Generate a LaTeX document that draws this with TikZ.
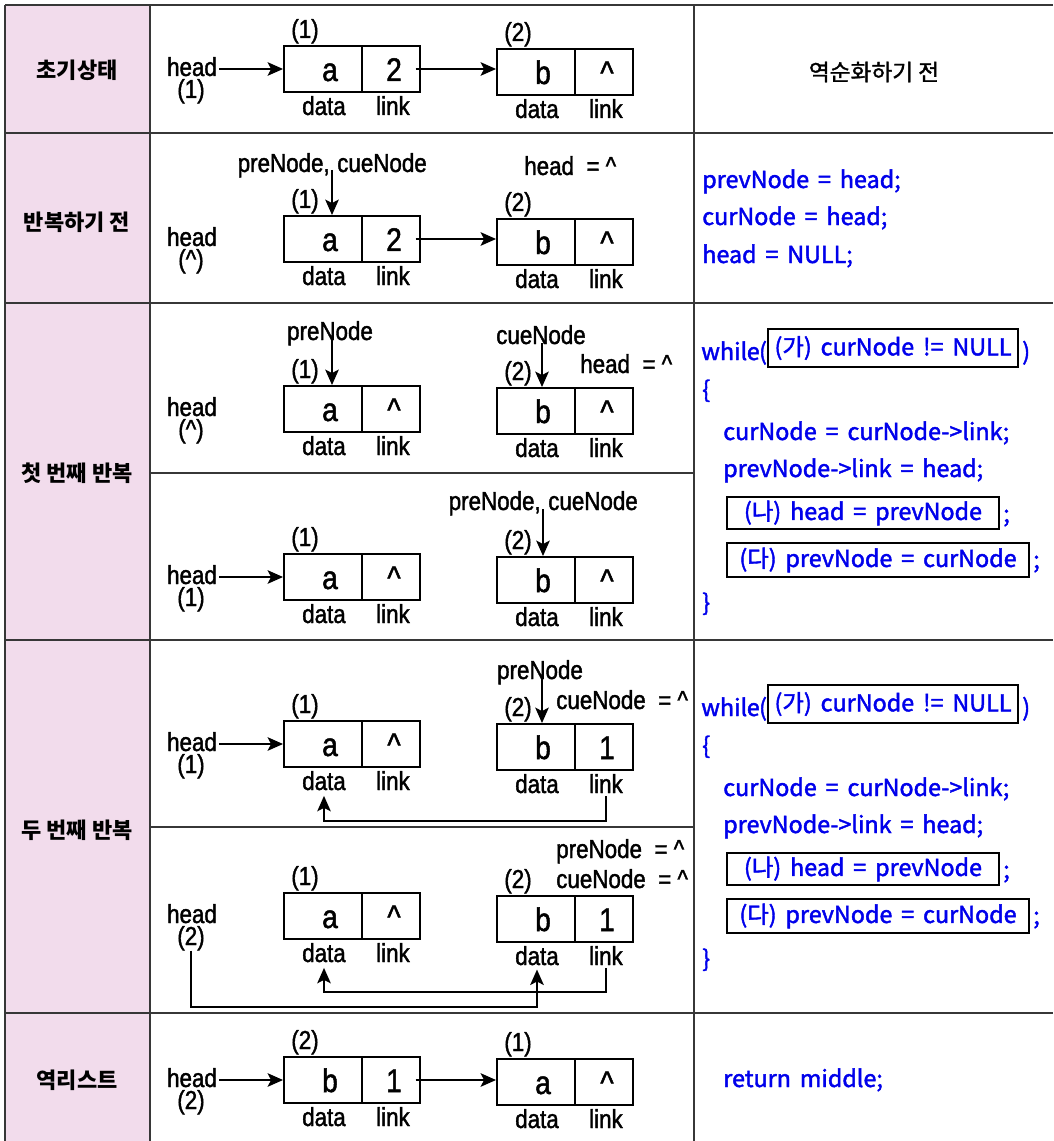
\documentclass[tikz,border=0pt]{standalone}
\usepackage{fontspec}
\usetikzlibrary{arrows.meta}
\newfontfamily\dfont[FakeStretch=0.86,FakeBold=1.5]{Liberation Sans}
\newfontfamily\krfont{Noto Sans CJK KR}
\newfontfamily\krcode[WordSpace=1.7,FakeBold=1.8]{Noto Sans CJK KR}
\newfontfamily\krmid[FakeBold=1.5]{Noto Sans CJK KR}
\definecolor{pinkbg}{RGB}{242,220,236}
\definecolor{codeblue}{RGB}{0,0,235}
\definecolor{rulegray}{RGB}{55,55,55}
\tikzset{
  lbl/.style={font=\dfont\fontsize{19.5}{21}\selectfont, inner sep=0pt, anchor=base},
  val/.style={font=\dfont\fontsize{24.5}{26}\selectfont, inner sep=0pt, anchor=base},
  cellbox/.style={draw, line width=1.4pt, minimum height=34.5pt, inner sep=0pt},
  dcell/.style={cellbox, minimum width=58.5pt},
  lcell/.style={cellbox, minimum width=43.5pt},
  arr/.style={line width=2pt, -{Stealth[length=11.5pt,width=10pt,inset=2.5pt]}},
  code/.style={font=\krcode\fontsize{17.5}{20}\selectfont, text=codeblue, inner sep=0pt, anchor=base west},
  kbox/.style={code, draw=black, line width=1pt, anchor=center},
  klab/.style={font=\krfont\bfseries\fontsize{16.5}{18}\selectfont, inner sep=0pt},
  grid/.style={draw=rulegray, line width=1.1pt},
}
% id, xleft, top, value1, value2, index
\newcommand\llnode[6]{%
  \node[dcell] (#1d) at ({#2+39},{#3+23}) {};
  \node[lcell] (#1l) at ({#2+107},{#3+23}) {};
  \node[val] (#1dv) at ({#2+46},{#3+35}) {#4};
  \node[val] (#1lv) at ({#2+110},{#3+35}) {#5};
  \node[lbl] (#1dt) at ({#2+40},{#3+69}) {data};
  \node[lbl] (#1lt) at ({#2+109},{#3+69}) {link};
  \node[lbl] (#1ix) at ({#2+21},{#3-8}) {#6};
}
% id, top, number
\newcommand\headlbl[3]{%
  \node[lbl] (#1h) at (192,{#2+30}) {head};
  \node[lbl] (#1hn) at (191,{#2+52}) {#3};
}
\begin{document}
\begin{tikzpicture}[x=0.75pt,y=-0.75pt]
\useasboundingbox (0,0) rectangle (1053,1141);
\fill[white] (0,0) rectangle (1053,1141);
\fill[pinkbg] (5,5) rectangle (150,1141);
% grid
\draw[grid, line width=1.5pt] (5,5) -- (1053,5);
\foreach \yy in {133,303,640,1013} \draw[grid] (5,\yy) -- (1053,\yy);
\foreach \yy in {473,827} \draw[grid] (150,\yy) -- (694,\yy);
\foreach \xx in {5,150,694} \draw[grid] (\xx,5) -- (\xx,1141);

% left labels
\node[klab] (t1) at (77,70) {초기상태};
\node[klab] (t2) at (77,222) {반복하기 전};
\node[klab] (t3) at (77,473) {첫 번째 반복};
\node[klab] (t4) at (77,830) {두 번째 반복};
\node[klab] (t5) at (77,1080) {역리스트};

% ---- row 1
\llnode{r1a}{284}{46}{a}{2}{(1)}
\llnode{r1b}{497}{49}{b}{\textasciicircum}{(2)}
\headlbl{r1}{46}{(1)}
\draw[arr, shorten <=1.5pt] (r1h.east |- r1ad.west) -- (r1ad.west);
\draw[arr] ([xshift=-4pt]r1al.east) -- (r1bd.west |- r1al.east);

% ---- row 2
\llnode{r2a}{284}{216}{a}{2}{(1)}
\llnode{r2b}{497}{219}{b}{\textasciicircum}{(2)}
\headlbl{r2}{216}{(\textasciicircum)}
\node[lbl, anchor=base east] (r2pre) at (330,172) {preNode,};
\node[lbl, anchor=base west] (r2cue) at (337,172) {cueNode};
\node[lbl, anchor=base west] (r2hd) at (524,175) {head\ \ =\ \textasciicircum};
\coordinate (r2p) at (332,170);
\draw[arr] (r2p) -- (r2p |- r2ad.north);
\draw[arr] ([xshift=-4pt]r2al.east) -- (r2bd.west |- r2al.east);

% ---- row 3a
\llnode{r3a}{284}{386}{a}{\textasciicircum}{(1)}
\llnode{r3b}{497}{388}{b}{\textasciicircum}{(2)}
\headlbl{r3}{386}{(\textasciicircum)}
\node[lbl] (r3pre) at (330,340) {preNode};
\node[lbl] (r3cue) at (541,344) {cueNode};
\node[lbl, anchor=base west] (r3hd) at (580,373) {head\ \ =\ \textasciicircum};
\coordinate (r3p) at (332,338);
\coordinate (r3c) at (542,343);
\draw[arr] (r3p) -- (r3p |- r3ad.north);
\draw[arr] (r3c) -- (r3c |- r3bd.north);

% ---- row 3b
\llnode{r3x}{284}{554}{a}{\textasciicircum}{(1)}
\llnode{r3y}{497}{557}{b}{\textasciicircum}{(2)}
\headlbl{r3z}{554}{(1)}
\node[lbl, anchor=base east] (r3zpre) at (541,510) {preNode,};
\node[lbl, anchor=base west] (r3zcue) at (548,510) {cueNode};
\coordinate (r3zp) at (543,509);
\draw[arr] (r3zp) -- (r3zp |- r3yd.north);
\draw[arr, shorten <=1.5pt] (r3zh.east |- r3xd.west) -- (r3xd.west);

% ---- row 4a
\llnode{r4a}{284}{721}{a}{\textasciicircum}{(1)}
\llnode{r4b}{497}{724}{b}{1}{(2)}
\headlbl{r4}{721}{(1)}
\node[lbl] (r4pre) at (540,679) {preNode};
\node[lbl, anchor=base west] (r4cue) at (556,709) {cueNode\ \ =\ \textasciicircum};
\coordinate (r4p) at (542,678);
\draw[arr] (r4p) -- (r4p |- r4bd.north);
\draw[arr, shorten <=1.5pt] (r4h.east |- r4ad.west) -- (r4ad.west);
\draw[arr] ([yshift=-2pt]r4blt.south) -- ++(0,25) -| ([yshift=-4pt]r4adt.south);

% ---- row 4b
\llnode{r4x}{284}{893}{a}{\textasciicircum}{(1)}
\llnode{r4y}{497}{896}{b}{1}{(2)}
\headlbl{r4z}{893}{(2)}
\node[lbl, anchor=base west] (r4zpre) at (556,858) {preNode\ \ =\ \textasciicircum};
\node[lbl, anchor=base west] (r4zcue) at (556,888) {cueNode\ \ =\ \textasciicircum};
\draw[arr] ([yshift=-2pt]r4ylt.south) -- ++(0,24) -| ([yshift=-4pt]r4xdt.south);
\coordinate (r4floor) at (0,1007);
\draw[arr] (r4zhn.south) -- (r4zhn.south |- r4floor) -| ([yshift=-3pt]r4ydt.south);

% ---- row 5
\llnode{r5a}{284}{1057}{b}{1}{(2)}
\llnode{r5b}{497}{1059}{a}{\textasciicircum}{(1)}
\headlbl{r5}{1057}{(2)}
\draw[arr, shorten <=1.5pt] (r5h.east |- r5ad.west) -- (r5ad.west);
\draw[arr] ([xshift=-4pt]r5al.east) -- (r5bd.west |- r5al.east);

% ---- right column
\node[font=\krmid\fontsize{17}{18}\selectfont, inner sep=0pt] (c1) at (874,72) {역순화하기 전};
\node[code] (c2a) at (702,188) {prevNode = head;};
\node[code] (c2b) at (702,225) {curNode = head;};
\node[code] (c2c) at (702,263) {head = NULL;};

\foreach \o/\n in {0/a,356/b}{
  \node[code] (w\n) at (701,{360+\o}) {whil\kern-0.3pt e\kern-0.5pt(};
  \node[kbox, minimum width=187.5pt, minimum height=28.5pt] (g\n) at (893,{348+\o}) {(가) curNode != NULL};
  \node[code] (wc\n) at (1022,{360+\o}) {)};
  \node[code] (ob\n) at (702,{398+\o}) {\{};
  \node[code] (l1\n) at (723,{440+\o}) {curNode = curNode->link;};
  \node[code] (l2\n) at (723,{477+\o}) {prevNode->link = head;};
  \node[kbox, minimum width=204pt, minimum height=24pt] (n\n) at (863,{513+\o}) {(나) head = prevNode};
  \node[code] (s1\n) at (1003,{522+\o}) {;};
  \node[kbox, minimum width=226.5pt, minimum height=25.5pt] (d\n) at (878,{560+\o}) {(다) prevNode = curNode};
  \node[code] (s2\n) at (1033,{568+\o}) {;};
  \node[code] (cb\n) at (702,{611+\o}) {\}};
}
\node[code] (c5) at (723,1087) {return middle;};
\end{tikzpicture}
\end{document}
